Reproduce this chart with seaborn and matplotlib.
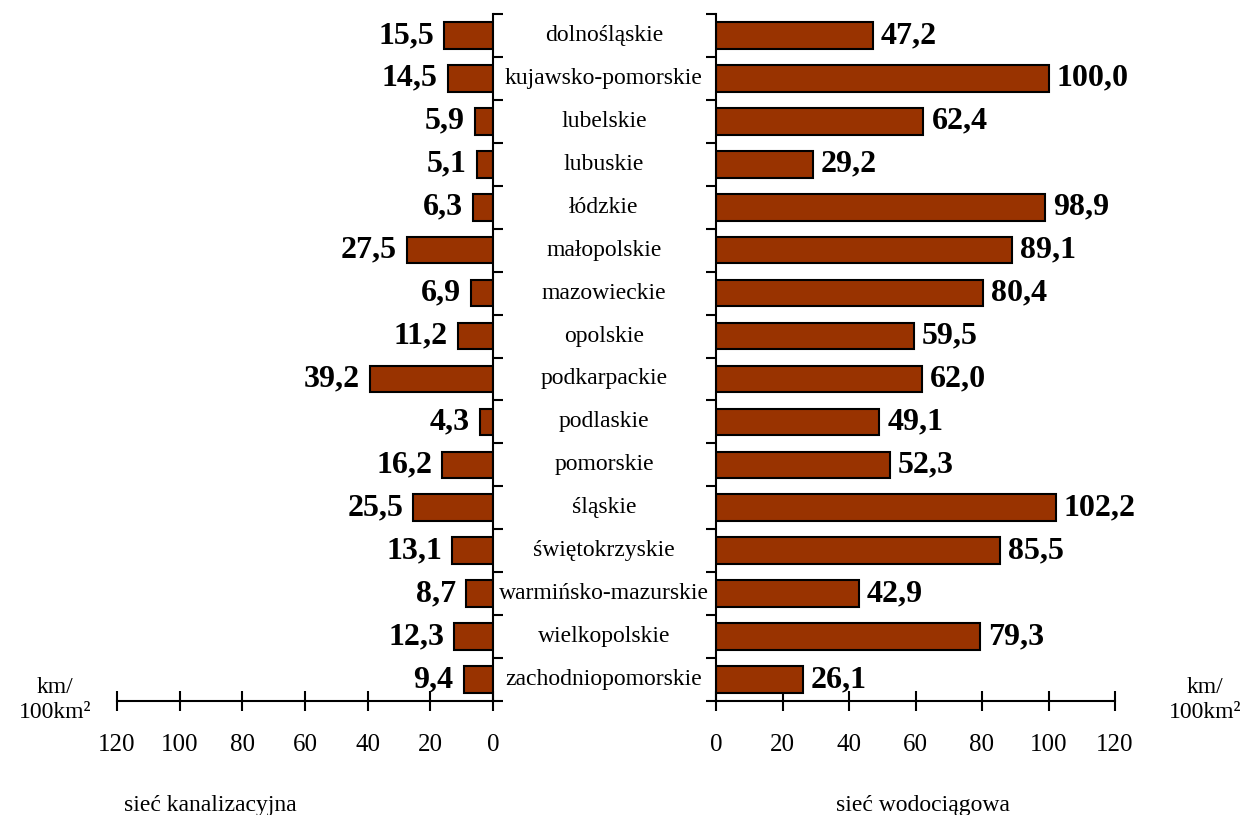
import numpy as np
import matplotlib
matplotlib.use("Agg")
import matplotlib.pyplot as plt
import seaborn as sns

regions = ["dolnośląskie", "kujawsko-pomorskie", "lubelskie", "lubuskie", "łódzkie",
           "małopolskie", "mazowieckie", "opolskie", "podkarpackie", "podlaskie",
           "pomorskie", "śląskie", "świętokrzyskie", "warmińsko-mazurskie",
           "wielkopolskie", "zachodniopomorskie"]
kanalizacja = [15.5, 14.5, 5.9, 5.1, 6.3, 27.5, 6.9, 11.2, 39.2, 4.3, 16.2, 25.5, 13.1, 8.7, 12.3, 9.4]
wodociagi = [47.2, 100.0, 62.4, 29.2, 98.9, 89.1, 80.4, 59.5, 62.0, 49.1, 52.3, 102.2, 85.5, 42.9, 79.3, 26.1]
x_ticks = [0, 20, 40, 60, 80, 100, 120]

sns.set_style("white")
plt.rcParams['font.family'] = ['Liberation Serif', 'DejaVu Serif']
for key in ["text.color", "axes.labelcolor", "xtick.color", "ytick.color"]:
    plt.rcParams[key] = "black"

BAR = "#993300"
fig = plt.figure(figsize=(12.43, 8.15), dpi=100)
ax_l = fig.add_axes([117 / 1243, 1 - 701 / 815, 376 / 1243, 687 / 815])
ax_r = fig.add_axes([716 / 1243, 1 - 701 / 815, 399 / 1243, 687 / 815])


def fmt(v):
    return f"{v:.1f}".replace(".", ",")


for ax, vals, side in [(ax_l, kanalizacja, "left"), (ax_r, wodociagi, "right")]:
    sns.barplot(x=vals, y=regions, ax=ax, orient="h", color=BAR,
                edgecolor="black", linewidth=1.5, width=0.62, saturation=1)
    ax.set_ylim(len(regions) - 0.5, -0.5)
    ax.set_yticks(np.arange(-0.5, len(regions), 1.0))
    ax.set_yticklabels([])
    ax.set_xticks(x_ticks)
    ax.set_xlabel("")
    ax.set_ylabel("")
    ax.tick_params(axis="x", direction="inout", length=14, width=1.5,
                   labelsize=18, pad=17, bottom=True)
    ax.tick_params(axis="y", direction="out", length=7, width=1.5)
    ax.spines["top"].set_visible(False)
    for s in ["bottom", "left", "right"]:
        ax.spines[s].set_linewidth(1.5)
        ax.spines[s].set_color("black")
    for i, v in enumerate(vals):
        if side == "left":
            ax.text(v + 3.2, i, fmt(v), ha="right", va="center",
                    fontsize=23, fontweight="bold")
        else:
            ax.text(v + 2.4, i, fmt(v), ha="left", va="center",
                    fontsize=23, fontweight="bold")

ax_l.set_xlim(120, 0)
ax_l.spines["left"].set_visible(False)
ax_l.yaxis.tick_right()
ax_l.tick_params(axis="y", left=False, right=True)

ax_r.set_xlim(0, 120)
ax_r.spines["right"].set_visible(False)
ax_r.tick_params(axis="y", left=True, right=False)

# nazwy województw pomiędzy panelami
for i, name in enumerate(regions):
    y = 1 - (14 + 42.94 * (i + 0.5)) / 815
    fig.text(604 / 1243, y, name, ha="center", va="center", fontsize=17)

fig.text(55 / 1243, 1 - 700 / 815, "km/\n100km²", ha="center", va="center",
         fontsize=17, linespacing=1.3)
fig.text(1205 / 1243, 1 - 700 / 815, "km/\n100km²", ha="center", va="center",
         fontsize=17, linespacing=1.3)

fig.text(210 / 1243, 1 - 805 / 815, "sieć kanalizacyjna", ha="center",
         va="center", fontsize=17)
fig.text(923 / 1243, 1 - 805 / 815, "sieć wodociągowa", ha="center",
         va="center", fontsize=17)

fig.savefig("out.png", dpi=100)
